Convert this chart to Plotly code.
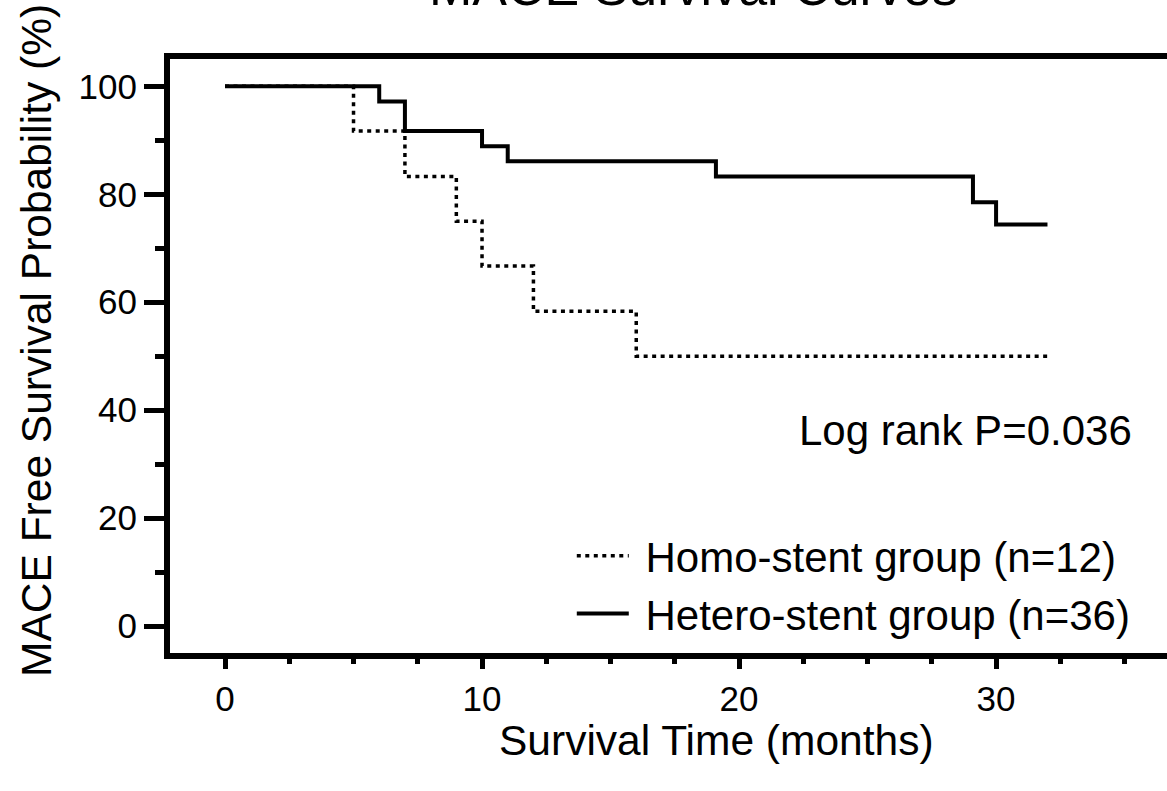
import plotly.graph_objects as go

# Kaplan-Meier step data (months, % MACE-free)
homo_time = [0, 5, 7, 9, 10, 12, 16, 32]
homo_surv = [100, 91.7, 83.3, 75.0, 66.7, 58.3, 50.0, 50.0]

hetero_time = [0, 6, 7, 10, 11, 19.1, 29.1, 30, 32]
hetero_surv = [100, 97.2, 91.7, 88.9, 86.1, 83.3, 78.5, 74.4, 74.4]

homo_name = "Homo-stent group (n=12)"
hetero_name = "Hetero-stent group (n=36)"

FONT = "Liberation Sans, Arial, sans-serif"

fig = go.Figure()
fig.add_trace(go.Scatter(
    x=homo_time, y=homo_surv, mode="lines", line_shape="hv",
    name="\u00a0" + homo_name, legendgroup="a",
    line=dict(color="black", width=3.5, dash="4px,4.5px"),
))
fig.add_trace(go.Scatter(
    x=hetero_time, y=hetero_surv, mode="lines", line_shape="hv",
    name="\u00a0" + hetero_name, legendgroup="b",
    line=dict(color="black", width=4),
))

fig.update_layout(
    width=1167, height=791,
    margin=dict(l=170, r=0, t=59, b=138),
    plot_bgcolor="white", paper_bgcolor="white",
    font=dict(family=FONT, color="black", size=35),
    showlegend=True,
    legend=dict(
        x=0.403, y=0.2205, xanchor="left", yanchor="top",
        font=dict(size=42, family=FONT, color="black"),
        bgcolor="rgba(0,0,0,0)", itemwidth=52,
        traceorder="grouped", tracegroupgap=0,
    ),
    xaxis=dict(
        range=[-2.14, 36.65], showgrid=False, zeroline=False,
        showline=True, linecolor="black", linewidth=6, mirror=True,
        tickmode="array", tickvals=[0, 10, 20, 30],
        ticks="outside", ticklen=10, tickwidth=4.5, tickcolor="black",
        tickfont=dict(size=35, family=FONT, color="black"),
        minor=dict(dtick=2.5, tick0=0, ticks="outside", ticklen=5,
                   tickwidth=4.5, tickcolor="black", showgrid=False),
    ),
    yaxis=dict(
        range=[-5.0, 105.06], showgrid=False, zeroline=False,
        showline=True, linecolor="black", linewidth=6, mirror=False,
        tickmode="array", tickvals=[0, 20, 40, 60, 80, 100],
        ticks="outside", ticklen=20, tickwidth=4.5, tickcolor="black",
        tickfont=dict(size=35, family=FONT, color="black"),
        minor=dict(dtick=10, tick0=0, ticks="outside", ticklen=9,
                   tickwidth=4.5, tickcolor="black", showgrid=False),
    ),
    annotations=[
        dict(text="MACE Survival Curves", xref="paper", yref="paper",
             x=0.5246, y=1.1215, xanchor="center", yanchor="middle",
             showarrow=False, font=dict(size=52, family=FONT, color="black")),
        dict(text="MACE Free Survival Probability (%)", xref="paper", yref="paper",
             x=-0.1334, y=0.5253, xanchor="center", yanchor="middle", textangle=-90,
             showarrow=False, font=dict(size=42.5, family=FONT, color="black")),
        dict(text="Survival Time (months)", xref="paper", yref="paper",
             x=0.5486, y=-0.148, xanchor="center", yanchor="middle",
             showarrow=False, font=dict(size=42.5, family=FONT, color="black")),
        dict(text="Log rank P=0.036", xref="paper", yref="paper",
             x=0.798, y=0.3740, xanchor="center", yanchor="middle",
             showarrow=False, font=dict(size=42, family=FONT, color="black")),
    ],
)

fig.write_html(
    "out.html",
    config={"displayModeBar": False},
    post_script="document.body.style.margin='0';document.body.style.overflow='hidden';",
)
